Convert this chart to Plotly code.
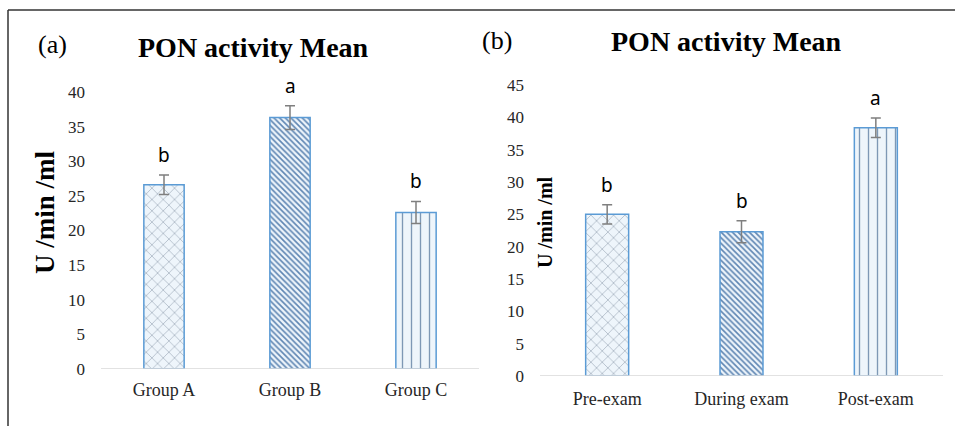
import plotly.graph_objects as go

# ---- data ----
groups = ["Group A", "Group B", "Group C"]
group_means = [26.6, 36.3, 22.6]
group_err = [1.4, 1.7, 1.6]
group_letters = ["b", "a", "b"]

phases = ["Pre-exam", "During exam", "Post-exam"]
phase_means = [25.0, 22.3, 38.4]
phase_err = [1.5, 1.7, 1.5]
phase_letters = ["b", "b", "a"]

patterns = ["x", "\\", "|"]
pattern_sizes = [8, 4, 9]
pattern_solid = [0.15, 0.4, 0.15]
pattern_fg = ["#9AA6B4", "#5F86B3", "#7E98B5"]

W, H = 955, 426
serif = "Liberation Serif"
sans = "Noto Sans"
edge = "#5B9BD5"
bg = "#EEF5FB"

fig = go.Figure()

def add_bars(cats, means, errs, xa, ya):
    for i, (c, m, e) in enumerate(zip(cats, means, errs)):
        fig.add_trace(go.Bar(
            x=[c], y=[m], width=0.32, xaxis=xa, yaxis=ya,
            marker=dict(color=bg, line=dict(color=edge, width=1.5),
                        pattern=dict(shape=patterns[i], fgcolor=pattern_fg[i], bgcolor=bg,
                                     size=pattern_sizes[i], solidity=pattern_solid[i],
                                     fillmode="replace")),
            error_y=dict(type="data", array=[e], color="#7F7F7F", thickness=1.5, width=5),
            showlegend=False, hoverinfo="skip"))

add_bars(groups, group_means, group_err, "x", "y")
add_bars(phases, phase_means, phase_err, "x2", "y2")

def px_x(p):
    return p / W

def px_y(p):
    return (H - p) / H

axis_common = dict(showgrid=False, zeroline=False, ticks="", showline=False, automargin=False)
fig.update_layout(
    width=W, height=H, autosize=False,
    margin=dict(l=0, r=0, t=0, b=0, pad=0, autoexpand=False),
    paper_bgcolor="white", plot_bgcolor="white",
    xaxis=dict(domain=[px_x(101), px_x(479)], anchor="y", **axis_common,
               tickfont=dict(family=serif, size=18, color="#262626"), ticklabelstandoff=8),
    yaxis=dict(domain=[px_y(369), px_y(92)], anchor="x", range=[0, 40], dtick=5, **axis_common,
               tickfont=dict(family=serif, size=17, color="#262626"), ticklabelstandoff=15),
    xaxis2=dict(domain=[px_x(540), px_x(943)], anchor="y2", **axis_common,
                tickfont=dict(family=serif, size=18, color="#262626"), ticklabelstandoff=10),
    yaxis2=dict(domain=[px_y(376), px_y(85)], anchor="x2", range=[0, 45], dtick=5, **axis_common,
                tickfont=dict(family=serif, size=17, color="#262626"), ticklabelstandoff=15),
)

# baselines
fig.add_shape(type="line", xref="x domain", yref="y", x0=0, x1=1, y0=0, y1=0,
              line=dict(color="#D9D9D9", width=1.5))
fig.add_shape(type="line", xref="x2 domain", yref="y2", x0=0, x1=1, y0=0, y1=0,
              line=dict(color="#D9D9D9", width=1.5))

# frame
fig.add_shape(type="line", xref="paper", yref="paper", x0=px_x(8), x1=1.01, y0=px_y(10), y1=px_y(10),
              line=dict(color="#333333", width=1.5))
fig.add_shape(type="line", xref="paper", yref="paper", x0=px_x(8), x1=px_x(8), y0=px_y(10), y1=-0.01,
              line=dict(color="#333333", width=1.5))

# letters
for c, m, e, t in zip(groups, group_means, group_err, group_letters):
    fig.add_annotation(x=c, y=m + e, xref="x", yref="y", text=t, showarrow=False,
                       yanchor="bottom", yshift=5, font=dict(family=sans, size=19, color="black"))
for c, m, e, t in zip(phases, phase_means, phase_err, phase_letters):
    fig.add_annotation(x=c, y=m + e, xref="x2", yref="y2", text=t, showarrow=False,
                       yanchor="bottom", yshift=5, font=dict(family=sans, size=19, color="black"))

def label(xp, yp, text, font, angle=0):
    fig.add_annotation(x=px_x(xp), y=px_y(yp), xref="paper", yref="paper", text=text,
                       showarrow=False, xanchor="center", yanchor="middle", textangle=angle, font=font)

tfont = dict(family=serif, size=28, color="black")
label(254, 47, "<b>PON activity Mean</b>", tfont)
label(726, 42, "<b>PON activity Mean</b>", tfont)
label(52, 44, "(a)", dict(family=serif, size=26, color="black"))
label(497, 40, "(b)", dict(family=serif, size=26, color="black"))

# y-axis titles
label(45, 212, "<b>U /min /ml</b>", dict(family=serif, size=27, color="black"), -90)
label(545, 222, "<b>U /min /ml</b>", dict(family=serif, size=20, color="black"), -90)

fig.write_html("out.html", config={"displayModeBar": False},
               post_script="document.body.style.margin='0';document.body.style.overflow='hidden';")
